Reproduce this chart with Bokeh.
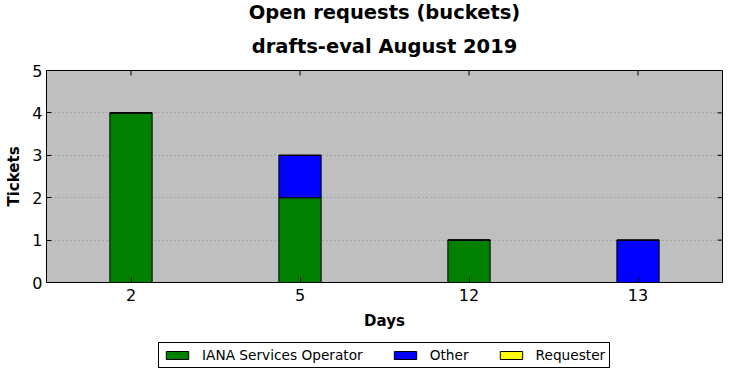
from math import pi
from bokeh.plotting import figure
from bokeh.layouts import column
from bokeh.models import Legend, LegendItem, Title, FactorRange, Range1d, FixedTicker
from bokeh.embed import file_html
from bokeh.resources import INLINE

days = ["2", "5", "12", "13"]
series = ["IANA Services Operator", "Other", "Requester"]
iana = [4, 2, 1, 0]
other = [0, 1, 0, 1]
requester = [0, 0, 0, 0]
colors = ["#008000", "#0000ff", "#ffff00"]
yticks = [0, 1, 2, 3, 4, 5]
ymax = 5

FONT = "DejaVu Sans"
data = {"days": days, "IANA Services Operator": iana, "Other": other, "Requester": requester}

p = figure(width=732, height=336, x_range=FactorRange(*days, range_padding=0),
           y_range=Range1d(0, ymax), output_backend="svg", toolbar_location=None,
           min_border_left=46, min_border_right=10, min_border_top=70, min_border_bottom=54)

renderers = p.vbar_stack(series, x="days", width=0.25, source=data, color=colors,
                         line_color="black", line_width=1)

p.background_fill_color = "#bfbfbf"
p.border_fill_color = "white"
p.outline_line_color = "black"
p.outline_line_width = 1
p.outline_line_alpha = 1

p.xgrid.visible = False
p.ygrid.grid_line_color = "#8c8c8c"
p.ygrid.grid_line_dash = "1 3"
p.ygrid.grid_line_width = 1
p.ygrid.level = "underlay"

p.yaxis.ticker = FixedTicker(ticks=yticks)
for ax in (p.xaxis[0], p.yaxis[0]):
    ax.axis_line_color = None
    ax.major_tick_in = 5
    ax.major_tick_out = 0
    ax.minor_tick_line_color = None
    ax.major_label_text_font = FONT
    ax.major_label_text_font_size = "16px"
    ax.major_label_text_color = "black"
    ax.axis_label_text_font = FONT
    ax.axis_label_text_font_style = "bold"
    ax.axis_label_text_font_size = "15px"
    ax.axis_label_text_color = "black"
    ax.major_tick_line_color = "black"
p.xaxis.axis_label = "Days"
p.yaxis.axis_label = "Tickets"
p.xaxis.major_label_standoff = 6
p.yaxis.major_label_standoff = 4
p.xaxis.axis_label_standoff = 8
p.yaxis.axis_label_standoff = 6

# top and right inward ticks (matplotlib classic style)
p.ray(x=days, y=[ymax] * len(days), length=5, length_units="screen", angle=-pi / 2,
      line_color="black", line_width=1)
p.ray(x=[(days[-1], 0.5)] * len(yticks), y=yticks, length=5, length_units="screen",
      angle=pi, line_color="black", line_width=1)

t2 = Title(text="drafts-eval August 2019", align="center", text_font=FONT,
           text_font_size="19.5px", text_font_style="bold", text_color="black", standoff=25)
t1 = Title(text="Open requests (buckets)", align="center", text_font=FONT,
           text_font_size="19.5px", text_font_style="bold", text_color="black", standoff=-7)
p.add_layout(t2, "above")
p.add_layout(t1, "above")

# legend strip below the chart (bars drawn far out of view so only the legend shows)
lg = figure(width=732, height=42, x_range=FactorRange(*days), y_range=Range1d(100, 101),
            output_backend="svg", toolbar_location=None, x_axis_location=None,
            y_axis_location=None, min_border=0, min_border_left=0, min_border_right=0,
            min_border_top=0, min_border_bottom=0)
lg.grid.visible = False
lg.outline_line_color = None
lg.background_fill_color = "white"
lg.border_fill_color = "white"
lg_renderers = lg.vbar_stack(series, x="days", width=0.25, source=data, color=colors,
                             line_color="black", line_width=1)

items = [LegendItem(label=s, renderers=[r]) for s, r in zip(series, lg_renderers)]
legend = Legend(items=items, orientation="horizontal", location=(112, 10),
                label_text_font=FONT, label_text_font_size="13.7px", label_text_color="black",
                glyph_width=28, glyph_height=10, spacing=28, padding=4, margin=0,
                label_standoff=11, border_line_color="black", border_line_width=1,
                border_line_alpha=1, background_fill_alpha=1, label_height=13)
lg.add_layout(legend, "center")

layout = column(p, lg, spacing=0)
open("out.html", "w").write(file_html(layout, INLINE))
